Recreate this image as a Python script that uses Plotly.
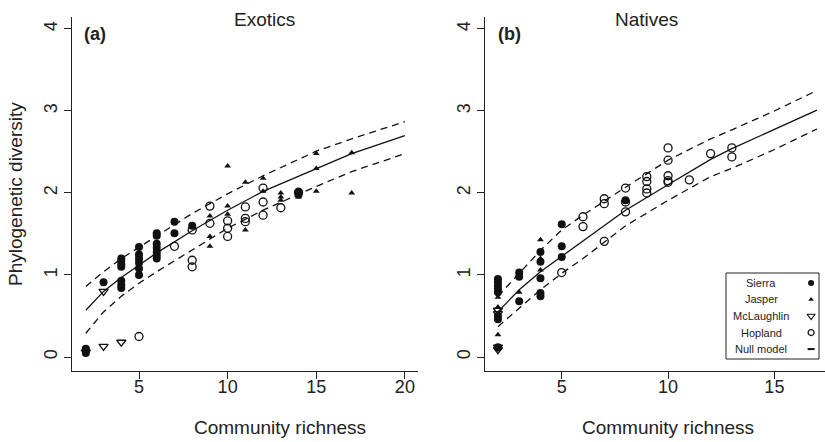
import plotly.graph_objects as go

FONT = "Liberation Sans, Arial, Helvetica, sans-serif"
INK = "#111111"

# ---------------- Exotics (panel a) ----------------
ex_sierra_x = [2, 2, 2, 3, 4, 4, 4, 4, 4, 4, 4, 5, 5, 5, 5, 5, 5,
               6, 6, 6, 6, 6, 6, 6, 7, 7, 8, 14, 14]
ex_sierra_y = [0.05, 0.08, 0.1, 0.91, 1.2, 1.17, 1.13, 1.1, 0.93, 0.88, 0.84,
               1.34, 1.25, 1.2, 1.15, 1.08, 1.0,
               1.51, 1.48, 1.38, 1.33, 1.28, 1.24, 1.2, 1.65, 1.51, 1.6, 2.01, 1.98]
ex_jasper_x = [9, 9, 9, 10, 10, 10, 11, 11, 12, 12, 13, 13, 13, 14, 15, 15, 15, 17, 17]
ex_jasper_y = [1.72, 1.47, 1.35, 2.33, 1.84, 1.74, 2.13, 1.55, 2.18, 2.02,
               2.0, 1.95, 1.91, 1.95, 2.48, 2.3, 2.02, 2.49, 2.0]
ex_mcl_x = [2, 3, 3, 4]
ex_mcl_y = [0.06, 0.8, 0.13, 0.18]
ex_hop_x = [5, 7, 8, 8, 8, 9, 9, 10, 10, 10, 11, 11, 11, 12, 12, 12, 13, 14]
ex_hop_y = [0.25, 1.35, 1.55, 1.18, 1.1, 1.84, 1.63, 1.66, 1.57, 1.47,
            1.83, 1.69, 1.65, 2.06, 1.89, 1.73, 1.82, 2.01]
ex_null_x = [2, 3, 4, 5, 6, 8, 10, 12, 15, 17, 20]
ex_null_mean = [0.57, 0.8, 0.97, 1.12, 1.27, 1.54, 1.79, 2.02, 2.3, 2.48, 2.7]
ex_null_low = [0.29, 0.55, 0.74, 0.9, 1.04, 1.31, 1.57, 1.79, 2.08, 2.26, 2.48]
ex_null_high = [0.86, 1.04, 1.2, 1.34, 1.48, 1.75, 1.99, 2.21, 2.51, 2.66, 2.87]

# ---------------- Natives (panel b) ----------------
na_sierra_x = [2, 2, 2, 2, 2, 2, 2, 2, 3, 3, 3, 4, 4, 4, 4, 4, 5, 5, 5, 8]
na_sierra_y = [0.95, 0.91, 0.87, 0.83, 0.79, 0.5, 0.46, 0.12, 1.03, 0.98, 0.68,
               1.28, 1.16, 0.96, 0.78, 0.74, 1.62, 1.35, 1.22, 1.91]
na_jasper_x = [2, 2, 2, 3, 4, 4, 4]
na_jasper_y = [0.73, 0.61, 0.27, 0.79, 1.43, 1.2, 1.06]
na_mcl_x = [2, 2, 2, 2]
na_mcl_y = [0.57, 0.53, 0.12, 0.09]
na_hop_x = [5, 6, 6, 7, 7, 7, 8, 8, 8, 9, 9, 9, 9, 10, 10, 10, 10, 10, 11, 12, 13, 13]
na_hop_y = [1.03, 1.71, 1.59, 1.93, 1.87, 1.41, 2.06, 1.89, 1.77, 2.2, 2.14, 2.05, 2.0,
            2.55, 2.4, 2.21, 2.15, 2.13, 2.16, 2.48, 2.55, 2.44]
na_null_x = [2, 3, 4, 5, 6, 8, 10, 12, 13, 15, 17]
na_null_mean = [0.55, 0.82, 1.04, 1.23, 1.42, 1.79, 2.1, 2.41, 2.54, 2.77, 3.01]
na_null_low = [0.37, 0.6, 0.82, 1.02, 1.2, 1.6, 1.91, 2.2, 2.3, 2.53, 2.78]
na_null_high = [0.74, 1.02, 1.3, 1.55, 1.73, 2.07, 2.4, 2.66, 2.77, 3.0, 3.25]

# ---------------- text ----------------
panel_titles = ["Exotics", "Natives"]
panel_tags = ["(a)", "(b)"]
x_title = "Community richness"
y_title = "Phylogenetic diversity"
legend_labels = ["Sierra", "Jasper", "McLaughlin", "Hopland", "Null model"]
x_ticks_a = [5, 10, 15, 20]
x_ticks_b = [5, 10, 15]
y_ticks = [0, 1, 2, 3, 4]

W, H = 825, 442

STYLES = {
    "Sierra": dict(symbol="circle", size=8, color=INK),
    "Jasper": dict(symbol="triangle-up", size=6, color=INK),
    "McLaughlin": dict(symbol="triangle-down-open", size=8, color=INK, line=dict(width=1.3, color=INK)),
    "Hopland": dict(symbol="circle-open", size=8, color=INK, line=dict(width=1.3, color=INK)),
    "Null model": dict(symbol="line-ew", size=5, color=INK, line=dict(width=2, color=INK)),
}
LEGEND_STYLES = {
    "Sierra": dict(symbol="circle", size=6, color=INK),
    "Jasper": dict(symbol="triangle-up", size=5, color=INK),
    "McLaughlin": dict(symbol="triangle-down-open", size=7, color=INK, line=dict(width=1.2, color=INK)),
    "Hopland": dict(symbol="circle-open", size=6, color=INK, line=dict(width=1.2, color=INK)),
    "Null model": dict(symbol="line-ew", size=5, color=INK, line=dict(width=2, color=INK)),
}

fig = go.Figure()


def add_lines(xs, mean, low, high, xa, ya):
    for ys, dash in ((mean, "solid"), (low, "7px,5px"), (high, "7px,5px")):
        fig.add_trace(go.Scatter(x=xs, y=ys, mode="lines", xaxis=xa, yaxis=ya,
                                 line=dict(color=INK, width=1.3, dash=dash),
                                 showlegend=False, hoverinfo="skip"))


def add_points(xs, ys, name, xa, ya):
    fig.add_trace(go.Scatter(x=xs, y=ys, mode="markers", xaxis=xa, yaxis=ya,
                             marker=STYLES[name], showlegend=False, hoverinfo="skip"))


add_lines(ex_null_x, ex_null_mean, ex_null_low, ex_null_high, "x", "y")
add_points(ex_sierra_x, ex_sierra_y, "Sierra", "x", "y")
add_points(ex_jasper_x, ex_jasper_y, "Jasper", "x", "y")
add_points(ex_mcl_x, ex_mcl_y, "McLaughlin", "x", "y")
add_points(ex_hop_x, ex_hop_y, "Hopland", "x", "y")

add_lines(na_null_x, na_null_mean, na_null_low, na_null_high, "x2", "y2")
add_points(na_sierra_x, na_sierra_y, "Sierra", "x2", "y2")
add_points(na_jasper_x, na_jasper_y, "Jasper", "x2", "y2")
add_points(na_mcl_x, na_mcl_y, "McLaughlin", "x2", "y2")
add_points(na_hop_x, na_hop_y, "Hopland", "x2", "y2")

# legend key symbols on an overlay axis spanning the legend box
n = len(legend_labels)
for i, lab in enumerate(legend_labels):
    fig.add_trace(go.Scatter(x=[0.915], y=[n - 1 - i], mode="markers", xaxis="x3", yaxis="y3",
                             marker=LEGEND_STYLES[lab], showlegend=False, hoverinfo="skip",
                             cliponaxis=False))

tickfont = dict(family=FONT, size=18, color="#222")
common = dict(showline=True, linecolor="#222", linewidth=1, ticks="outside", ticklen=7,
              tickwidth=1, tickcolor="#222", showgrid=False, zeroline=False, tickfont=tickfont)

ydom = [(H - 371) / H, (H - 17) / H]
fig.update_layout(
    width=W, height=H, margin=dict(l=0, r=0, t=0, b=0),
    paper_bgcolor="white", plot_bgcolor="white",
    xaxis=dict(domain=[72 / W, 418 / W], range=[1.22, 20.74], tickvals=x_ticks_a, anchor="y",
               ticklabelstandoff=-8, **common),
    yaxis=dict(domain=ydom, range=[-0.1707, 4.146], tickvals=y_ticks, tickangle=-90, anchor="x", **common),
    xaxis2=dict(domain=[485 / W, 1.0], range=[1.392, 17.38], tickvals=x_ticks_b, anchor="y2",
                ticklabelstandoff=-8, **common),
    yaxis2=dict(domain=ydom, range=[-0.1707, 4.146], tickvals=y_ticks, tickangle=-90, anchor="x2", **common),
    xaxis3=dict(domain=[726 / W, 819 / W], range=[0, 1], visible=False, anchor="y3"),
    yaxis3=dict(domain=[(H - 359) / H, (H - 273) / H], range=[-0.6, n - 0.4], visible=False, anchor="x3"),
)

fig.add_shape(type="rect", xref="paper", yref="paper",
              x0=726 / W, x1=819 / W, y0=(H - 359) / H, y1=(H - 273) / H,
              line=dict(color="#222", width=1), fillcolor="rgba(0,0,0,0)")

ann = []
for txt, cx in zip(panel_titles, [264, 646]):
    ann.append(dict(text=txt, x=cx / W, y=1 - 20 / H, xref="paper", yref="paper",
                    showarrow=False, xanchor="center", yanchor="middle",
                    font=dict(family=FONT, size=19, color="#222")))
for txt, cx in zip(panel_tags, [95, 509]):
    ann.append(dict(text="<b>%s</b>" % txt, x=cx / W, y=1 - 34 / H, xref="paper", yref="paper",
                    showarrow=False, xanchor="center", yanchor="middle",
                    font=dict(family=FONT, size=18, color="#222")))
for cx in [280, 668]:
    ann.append(dict(text=x_title, x=cx / W, y=1 - 427 / H, xref="paper", yref="paper",
                    showarrow=False, xanchor="center", yanchor="middle",
                    font=dict(family=FONT, size=19, color="#222")))
ann.append(dict(text=y_title, x=15 / W, y=1 - 194 / H, xref="paper", yref="paper",
                showarrow=False, xanchor="center", yanchor="middle", textangle=-90,
                font=dict(family=FONT, size=19, color="#222")))
for i, lab in enumerate(legend_labels):
    ann.append(dict(text=lab, x=0.38, y=n - 1 - i, xref="x3", yref="y3",
                    showarrow=False, xanchor="center", yanchor="middle",
                    font=dict(family=FONT, size=11, color="#222")))
fig.update_layout(annotations=ann)

fig.write_html("out.html", config={"displayModeBar": False},
               post_script="document.body.style.margin='0px';")
